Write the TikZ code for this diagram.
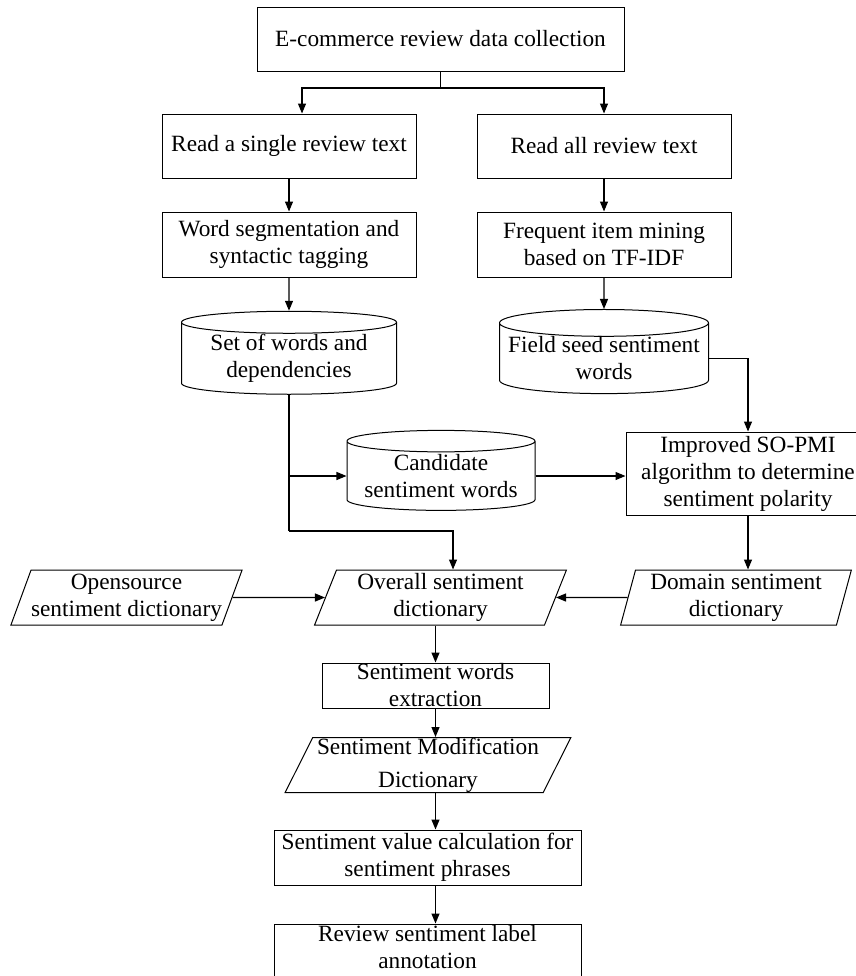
\documentclass[tikz,border=0pt]{standalone}
\usepackage{fontspec}
\setmainfont{Liberation Serif}
\usetikzlibrary{shapes.geometric,arrows.meta}

\begin{document}
\begin{tikzpicture}
        [x=0.5pt, y=-0.5pt,
        every node/.style={font=\fontsize{11.65}{13.5}\selectfont, align=center, inner sep=0pt},
        box/.style={rectangle, draw, line width=0.5pt},
        store/.style={cylinder, shape border rotate=90, aspect=0.14, draw, line width=0.5pt},
        dict/.style={trapezium, trapezium left angle=68, trapezium right angle=112,
                trapezium stretches=true, draw, line width=0.5pt},
        line/.style={line width=0.6pt},
        edge/.style={line width=0.6pt, -{Triangle[length=5pt, width=4pt]}}]

        \useasboundingbox (0,0) rectangle (856,976);

        \node[box, minimum width=183.5pt, minimum height=32pt] (collect) at (440.5,39) {E-commerce review data collection};
        \node[box, minimum width=127pt, minimum height=32pt] (read1) at (289,146) {Read a single review text};
        \node[box, minimum width=127pt, minimum height=32pt] (readall) at (604,146) {Read all review text};
        \node[box, minimum width=127pt, minimum height=32.5pt] (seg) at (289,244.5) {Word segmentation and\\syntactic tagging};
        \node[box, minimum width=127pt, minimum height=32.5pt] (freq) at (604,244.5) {Frequent item mining\\based on TF-IDF};
        \node[store, minimum width=107.5pt, minimum height=41.5pt] (wordset) at (289,358.5) {Set of words and\\dependencies};
        \node[store, minimum width=104.5pt, minimum height=41.5pt] (seed) at (604,358.5) {Field seed sentiment\\words};
        \node[store, minimum width=94pt, minimum height=40pt] (cand) at (441,476) {Candidate\\sentiment words};
        \node[box, minimum width=122pt, minimum height=41.5pt] (pmi) at (748,473.5) {Improved SO-PMI\\algorithm to determine\\sentiment polarity};

        % dictionaries
        \node[dict, trapezium left angle=67, trapezium right angle=113, minimum width=115.5pt, minimum height=27.5pt] (opendict) at (126.5,597.5) {Opensource\\sentiment dictionary};
        \node[dict, trapezium left angle=70, trapezium right angle=110, minimum width=126.5pt, minimum height=27.5pt] (overall) at (440.5,597.5) {Overall sentiment\\dictionary};
        \node[dict, trapezium left angle=75, trapezium right angle=105, minimum width=116pt, minimum height=27.5pt] (domain) at (736,597.5) {Domain sentiment\\dictionary};

        \node[box, minimum width=113.5pt, minimum height=22.5pt] (extract) at (435.5,685.5) {Sentiment words\\extraction};
        \node[dict, trapezium left angle=64, trapezium right angle=116, minimum width=143pt, minimum height=27.5pt,
                font=\fontsize{11.65}{16.5}\selectfont] (moddict) at (428,765) {Sentiment Modification\\Dictionary};
        \node[box, minimum width=153.5pt, minimum height=27.5pt] (value) at (427.5,857.5) {Sentiment value calculation for\\sentiment phrases};
        \node[box, minimum width=153.5pt, minimum height=32pt] (review) at (427.5,956) {Review sentiment label\\annotation\rule[-9pt]{0pt}{0pt}};

        \coordinate (split) at (440.5,88);
        \coordinate (join) at (289,531);

        % upper part
        \draw[line] (collect.south) -- (split);
        \draw[edge] (split) -| ([xshift=6.5pt]read1.north);
        \draw[edge] (split) -| (readall.north);
        \draw[edge] (read1) -- (seg);
        \draw[edge] (readall) -- (freq);
        \draw[edge] (seg) -- (wordset);
        \draw[edge] (freq) -- (seed);
        \draw[edge] (seed.east) -| (pmi.north);
        \draw[edge] (wordset.south) |- (cand.west);
        \draw[line] (wordset.south) -- (join);
        \draw[edge] (join) -| ([xshift=6.25pt]overall.north);
        \draw[edge] (cand.east) -- (cand.east -| pmi.west);
        \draw[edge] (pmi.south) -- (pmi.south |- domain.north);

        % lower part
        \draw[edge] (domain.west) -- (overall.east);
        \draw[edge] (opendict.east) -- (overall.west);
        \draw[edge] (extract.north |- overall.south) -- (extract.north);
        \draw[edge] (extract.south) -- (extract.south |- moddict.north);
        \draw[edge] (extract.south |- moddict.south) -- (extract.south |- value.north);
        \draw[edge] (extract.south |- value.south) -- (extract.south |- review.north);
\end{tikzpicture}
\end{document}
